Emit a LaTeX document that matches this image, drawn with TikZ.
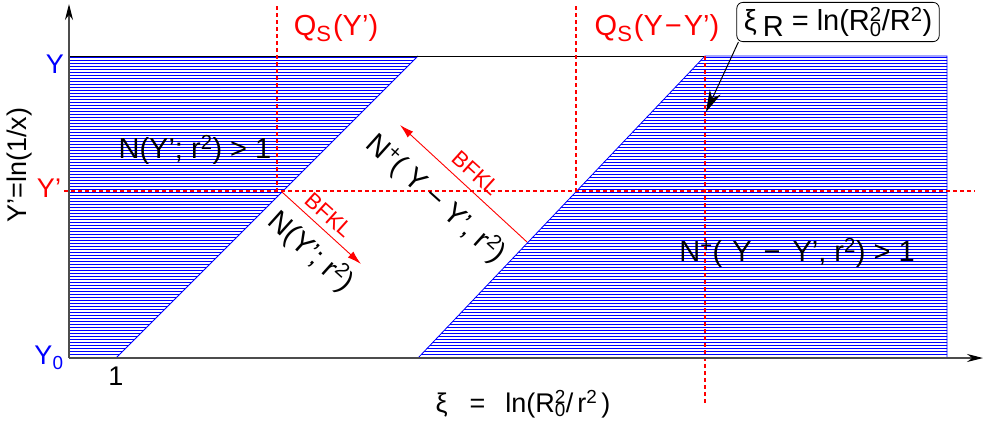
\documentclass[tikz,border=0pt]{standalone}
\usepackage{fontspec}
\setmainfont{Liberation Sans}
\usetikzlibrary{arrows.meta}
\newcommand{\supsubR}[2]{\rlap{\textsuperscript{#1}}\textsubscript{#2}}
\begin{document}
\begin{tikzpicture}[x=1pt,y=-1pt,
  lab/.style={inner sep=0pt, font=\fontsize{27}{30}\selectfont},
  big/.style={inner sep=0pt, font=\fontsize{29}{32}\selectfont},
  bfkltxt/.style={inner sep=0pt, red, font=\fontsize{22}{24}\selectfont, rotate=-42},
  hatch/.style={blue, line width=0.55pt},
  bedge/.style={blue, line width=0.8pt},
  reddash/.style={red, dash pattern=on 4pt off 3pt, line width=1.2pt},
  bfkl/.style={red, line width=0.9pt, -{Latex[length=14pt,width=8pt]}},
  axis/.style={gray!60!black, line width=1.1pt, -{Stealth[length=16pt,width=8pt,black]}},
]
\useasboundingbox (0,0) rectangle (983,445);

% hatched regions
\begin{scope}
  \clip (69,56) -- (418,56) -- (116,358) -- (69,358) -- cycle;
  \foreach \y in {57.5,60.5,...,358} \draw[hatch] (69,\y) -- (420,\y);
\end{scope}
\begin{scope}
  \clip (418,358) -- (705,56) -- (947,56) -- (947,358) -- cycle;
  \foreach \y in {57.5,60.5,...,358} \draw[hatch] (410,\y) -- (950,\y);
\end{scope}
\draw[bedge] (116,358) -- (418,56);
\draw[bedge] (418,358) -- (705,56) -- (947,56) -- (947,358);
\draw[bedge] (69,56) -- (69,358);
\draw[black, line width=0.8pt] (69,56) -- (705,56);

% dashed lines
\draw[reddash] (277,6) -- (277,191);
\draw[reddash] (576,6) -- (576,191);
\draw[reddash] (705,56) -- (705,405);
\draw[reddash] (64,191) -- (975,191);

% axes
\coordinate (O) at (69,358);
\coordinate (yend) at (69,4);
\coordinate (xend) at (983,358);
\draw[axis] (O) -- (yend);
\draw[axis] (O) -- (xend);

% axis labels
\node[lab, blue] (yl) at (55,64) {Y};
\node[lab, red] (ypl) at (49,188) {Y’};
\node[lab, blue] (y0l) at (49,358) {Y\textsubscript{0}};
\node[lab] (one) at (116,376) {1};
\node[lab, rotate=90] (yax) at (20,165) {Y’=ln(1/x)};
\node[lab] (xil) at (523,404) {ξ\hspace{22pt}=\hspace{20pt}ln(R\supsubR{2}{0}/\hspace{4pt}r\textsuperscript{2}\hspace{4pt})};

% saturation scales
\node[big, red] (qs1) at (336,28) {Q\raisebox{-6pt}{\fontsize{22}{22}\selectfont S}\hspace{2pt}(Y’)};
\node[big, red] (qs2) at (657,28) {Q\raisebox{-6pt}{\fontsize{22}{22}\selectfont S}\hspace{2pt}(Y\hspace{2pt}−\hspace{2pt}Y’)};

% xi_R box and arrow
\node[big, draw, rounded corners=6pt, line width=0.8pt, inner xsep=7pt, inner ysep=5pt] (xir) at (838,22)
  {ξ\hspace{6pt}\raisebox{-6pt}{R} = ln(R\supsubR{2}{0}/R\textsuperscript{2})};
\coordinate (xrtip) at (706,112);
\draw[line width=1pt, -{Stealth[length=22pt,width=12pt]}] ([xshift=2pt]xir.south west) -- (xrtip);

% region labels
\node[big] (nl) at (195,150) {N(Y’; r\textsuperscript{2}) > 1};
\node[big] (npr) at (797,253) {N\textsuperscript{+}(\hspace{10pt}Y\hspace{12pt}−\hspace{12pt}Y’,\hspace{8pt}r\textsuperscript{2}) > 1};
\node[big, rotate=-42] (nrot) at (311,252) {N(Y’; r\textsuperscript{2})};
\node[big, rotate=-42] (nprot) at (436,199) {N\textsuperscript{+}( Y − Y’, r\textsuperscript{2})};

% BFKL arrows
\coordinate (a1s) at (282,192);
\coordinate (a1e) at (361,264);
\coordinate (a2s) at (527,242);
\coordinate (a2e) at (400,125);
\draw[bfkl] (a1s) -- (a1e);
\draw[bfkl] (a2s) -- (a2e);
\node[bfkltxt] (b1) at (329,215) {BFKL};
\node[bfkltxt] (b2) at (476,173) {BFKL};
\end{tikzpicture}
\end{document}
